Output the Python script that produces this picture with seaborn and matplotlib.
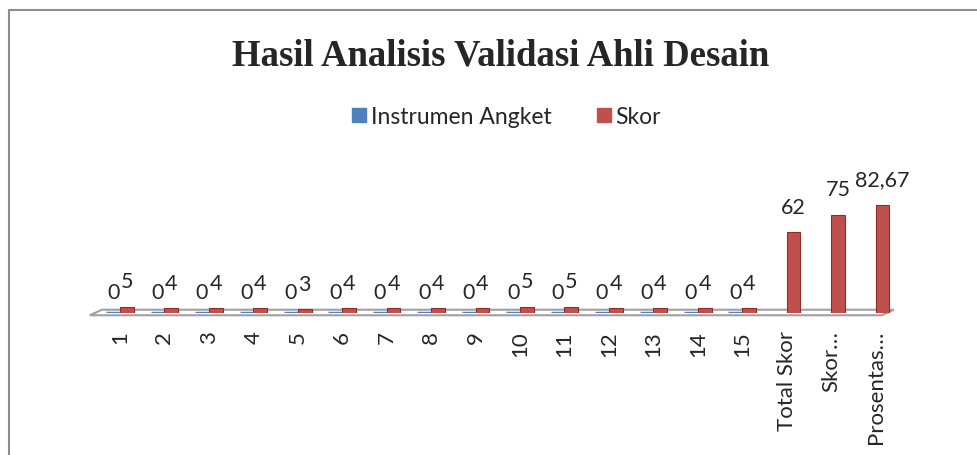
import matplotlib
matplotlib.use("Agg")
import matplotlib.pyplot as plt
import matplotlib.patches as mpatches
import pandas as pd
import seaborn as sns

categories = ["1", "2", "3", "4", "5", "6", "7", "8", "9", "10", "11", "12",
              "13", "14", "15", "Total Skor", "Skor…", "Prosentas…"]
instrumen_angket = [0] * 15 + [None, None, None]
skor = [5, 4, 4, 4, 3, 4, 4, 4, 4, 5, 5, 4, 4, 4, 4, 62, 75, 82.67]

series_names = ["Instrumen Angket", "Skor"]
colors = ["#4F81BD", "#C0504D"]

df = pd.DataFrame({
    "kategori": categories * 2,
    "seri": [series_names[0]] * len(categories) + [series_names[1]] * len(categories),
    "nilai": instrumen_angket + skor,
})

sns.set_style("white")
plt.rcParams["font.family"] = ["Lato", "DejaVu Sans"]

fig = plt.figure(figsize=(9.78, 4.56), dpi=100)
ax = fig.add_axes([0.1, 0.311, 0.818, 0.38])

sns.barplot(data=df, x="kategori", y="nilai", hue="seri", palette=colors,
            width=0.62, ax=ax, legend=False, saturation=1)

# zero-height blue bars shown as a thin strip, like the flat 3D blocks
for bar in ax.containers[0]:
    bar.set_edgecolor(colors[0])
    bar.set_linewidth(2.5)
for bar in ax.containers[1]:
    bar.set_edgecolor("#8B2E2B")
    bar.set_linewidth(0.8)

fmt = lambda v: f"{v:g}".replace(".", ",")
ax.bar_label(ax.containers[0], fmt=fmt, padding=8, fontsize=15.5)
ax.bar_label(ax.containers[1], fmt=fmt, padding=11, fontsize=15.5)

ax.set_ylim(0, 132)
ax.set_xlim(-0.5, len(categories) - 0.5)
ax.set_xlabel("")
ax.set_ylabel("")
ax.set_yticks([])
ax.tick_params(axis="x", labelrotation=90, labelsize=16, length=0, pad=12)
for s in ax.spines.values():
    s.set_visible(False)

# floor of the 3D chart
floor = mpatches.Polygon([(-0.01, -0.012), (0.98, -0.012), (0.995, 0.02), (0.005, 0.02)],
                         closed=True, transform=ax.transAxes, facecolor="white",
                         edgecolor="#A0A0A0", linewidth=1.5, zorder=0, clip_on=False)
ax.add_patch(floor)

fig.text(0.512, 0.877, "Hasil Analisis Validasi Ahli Desain", ha="center", va="center",
         fontsize=26.5, fontweight="bold", family="Liberation Serif")

handles = [mpatches.Patch(color=c, label=n) for c, n in zip(colors, series_names)]
fig.legend(handles=handles, loc="center", bbox_to_anchor=(0.518, 0.742), ncol=2,
           frameon=False, fontsize=16.5, handlelength=0.6, handleheight=0.6,
           handletextpad=0.2, columnspacing=2.0)

# outer chart border
fig.add_artist(mpatches.Rectangle((0.009, -0.05), 1.1, 1.026, transform=fig.transFigure,
                                  fill=False, edgecolor="#8C8C8C", linewidth=1.5))

fig.savefig("out.png", dpi=100)
